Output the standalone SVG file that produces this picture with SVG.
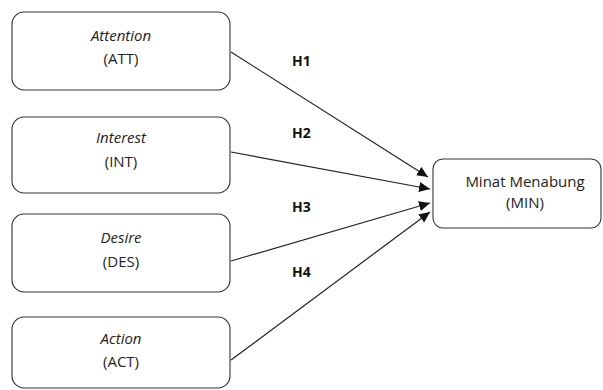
<svg xmlns="http://www.w3.org/2000/svg" width="603" height="390" viewBox="0 0 603 390">
<style>
.box{fill:#fff;stroke:#333;stroke-width:1.1}
.t{font-family:"Open Sans","Liberation Sans",sans-serif;font-size:15px;fill:#222;text-anchor:middle}
.i{font-style:italic}
.h{font-family:"Open Sans","Liberation Sans",sans-serif;font-size:14px;font-weight:bold;fill:#111}
.c{stroke:#222;stroke-width:1.2;fill:none;marker-end:url(#ah)}
</style>
<defs>
<marker id="ah" markerUnits="userSpaceOnUse" markerWidth="12" markerHeight="10" refX="11" refY="5" orient="auto">
<path d="M0,0 L11,5 L0,10 Z" fill="#111"/>
</marker>
</defs>
<rect width="603" height="390" fill="#fff"/>
<g id="connectors">
<line class="c" x1="231" y1="52" x2="428" y2="177"/>
<line class="c" x1="231" y1="152" x2="430" y2="189"/>
<line class="c" x1="231" y1="261" x2="430" y2="203"/>
<line class="c" x1="231" y1="360" x2="430" y2="212"/>
<text class="h" x="292" y="66">H1</text>
<text class="h" x="292" y="138">H2</text>
<text class="h" x="292" y="212">H3</text>
<text class="h" x="292" y="277">H4</text>
</g>
<g id="att">
<rect class="box" x="12" y="12" width="218" height="78" rx="12"/>
<text class="t i" x="121" y="41">Attention</text>
<text class="t" x="121" y="64">(ATT)</text>
</g>
<g id="int">
<rect class="box" x="12" y="117" width="218" height="76" rx="12"/>
<text class="t i" x="121" y="143">Interest</text>
<text class="t" x="121" y="167">(INT)</text>
</g>
<g id="des">
<rect class="box" x="12" y="214" width="218" height="78" rx="12"/>
<text class="t i" x="121" y="243">Desire</text>
<text class="t" x="121" y="267">(DES)</text>
</g>
<g id="act">
<rect class="box" x="12" y="317" width="218" height="71" rx="12"/>
<text class="t i" x="121" y="344">Action</text>
<text class="t" x="121" y="367">(ACT)</text>
</g>
<g id="min">
<rect class="box" x="433" y="159" width="168" height="69" rx="10"/>
<text class="t" x="525" y="187">Minat Menabung</text>
<text class="t" x="525" y="208">(MIN)</text>
</g>
</svg>
